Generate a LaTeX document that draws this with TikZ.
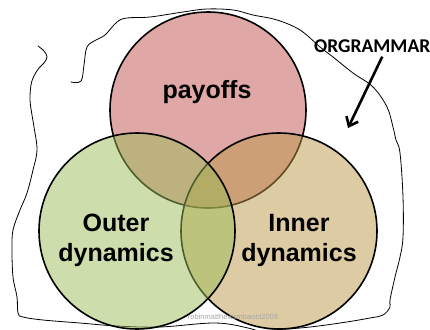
\documentclass[tikz,border=0pt]{standalone}
\usepackage{fontspec}
\setmainfont{Liberation Sans}
\newfontfamily\orgfont{Carlito}
\usetikzlibrary{arrows.meta,positioning}

\definecolor{payred}{HTML}{C0504D}
\definecolor{outgreen}{HTML}{9BBB59}
\definecolor{inntan}{HTML}{BB9749}

\begin{document}
\begin{tikzpicture}[x=1pt,y=-1pt,
  venn/.style={draw=black,line width=1.6pt,fill opacity=0.5},
  vennlabel/.style={font=\fontsize{25}{30}\selectfont\bfseries,align=center},
  scribble/.style={line width=0.8pt,line join=round,line cap=round}]
\useasboundingbox (0,0) rectangle (430,329);

% hand drawn outline
\draw[scribble] plot[smooth,tension=0.6] coordinates {(38,46) (44,51) (47,57) (44,63) (39,68) (34,76) (31,85) (30,100) (32,115) (34,127) (37,150) (33,170) (27,193) (20,210) (13,230) (12,250) (13,277) (17,297) (18,313) (23,317) (43,320) (80,323) (117,326) (160,327) (215,323) (248,328) (262,333)};
\draw[scribble] plot[smooth,tension=0.6] coordinates {(71,82) (81,81) (84,65) (87,47) (96,40) (105,35) (117,22) (127,18) (150,17) (183,12) (207,9) (233,10) (253,15) (277,20) (300,30) (320,47) (333,57) (353,73) (373,87) (387,107) (393,127) (396,140) (400,153) (403,197) (403,237) (400,257) (395,277) (390,300) (390,307) (383,315) (370,318) (340,323) (300,328) (240,332)};

% circles
\draw[venn,fill=payred] (208,110) circle (98pt);
\draw[venn,fill=inntan] (279,231) circle (98pt);
\draw[venn,fill=outgreen] (137,231) circle (98pt);

\node[vennlabel] (payoffs) at (207,92) {payoffs};
\node[vennlabel] (outer) at (116,240) {Outer\\dynamics};
\node[vennlabel] (inner) at (299,240) {Inner\\dynamics};

\node[text=black!35,font=\fontsize{7.5}{8}\selectfont] (mark) at (233,317) {robinmatthewsmbaoct2009};

% label and arrow
\node[font=\orgfont\fontsize{19.5}{22}\selectfont\bfseries,anchor=west,inner sep=0pt] (orgrammar) at (314,46) {ORGRAMMAR};
\coordinate (tip) at (348,128);
\draw[line width=2.6pt,-{Straight Barb[length=8pt,width=13pt]}] ([shift={(10,4)}]orgrammar.south) -- (tip);
\end{tikzpicture}
\end{document}
